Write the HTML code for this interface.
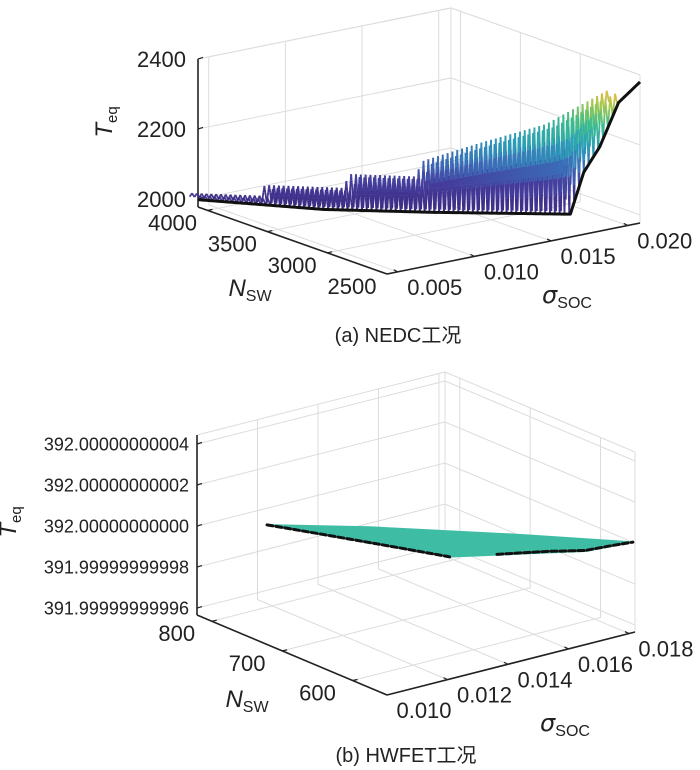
<!DOCTYPE html>
<html><head><meta charset="utf-8">
<style>
body{margin:0;background:#fff;}
svg{display:block;font-family:"Liberation Sans","Noto Sans CJK SC",sans-serif;}
</style></head>
<body>
<svg id="fig" width="700" height="770" viewBox="0 0 700 770">
<g id="c1"></g>
<g id="c2"></g>
<text x="398" y="342" font-size="20" text-anchor="middle" fill="#222">(a) NEDC工况</text>
<text x="406" y="762" font-size="20" text-anchor="middle" fill="#222">(b) HWFET工况</text>
</svg>
<script>
// ---- Chart (a) NEDC data ----
const a_zTicks = [2000, 2200, 2400];
const a_nTicks = [2500, 3000, 3500, 4000];
const a_sTicks = [0.005, 0.010, 0.015, 0.020];
const a_sTickLabels = ["0.005", "0.010", "0.015", "0.020"];
const a_peakSigma = [0.0043, 0.0070, 0.0071, 0.0101, 0.0102, 0.0128, 0.0129, 0.0150, 0.0176, 0.0199];
const a_peakT = [2008, 2008, 2039, 2039, 2079, 2079, 2121, 2178, 2242, 2345];
const a_baseSigma = [0.0043, 0.0090, 0.0130, 0.0182, 0.0187, 0.0193, 0.0200, 0.0208];
const a_baseT = [1998, 1983, 1986, 1995, 2116, 2191, 2319, 2380];
// ---- Chart (b) HWFET data ----
const b_zTicks = [391.99999999996, 391.99999999998, 392.0, 392.00000000002, 392.00000000004];
const b_zTickLabels = ["391.99999999996", "391.99999999998", "392.00000000000", "392.00000000002", "392.00000000004"];
const b_nTicks = [600, 700, 800];
const b_sTicks = [0.010, 0.012, 0.014, 0.016, 0.018];
const b_sTickLabels = ["0.010", "0.012", "0.014", "0.016", "0.018"];
const b_sheetSigma = [0.0115, 0.0135, 0.0163, 0.0182, 0.0168, 0.0137];
const b_sheetN = [786, 727, 628, 554, 560, 621];
const b_sheetT = [392, 392, 392, 392, 392, 392];
const b_frontSigma = [0.0115, 0.0122, 0.0130, 0.0137];
const b_frontN = [786, 735, 675, 621];
const b_front2Sigma = [0.0148, 0.0160, 0.0168, 0.0176, 0.0182];
const b_front2N = [601, 580, 562, 558, 554];

const NS = "http://www.w3.org/2000/svg";
function el(tag, attrs, parent){const e=document.createElementNS(NS,tag);for(const k in attrs)e.setAttribute(k,attrs[k]);parent.appendChild(e);return e;}
function interp(xs, ys, x){if(x<=xs[0])return ys[0];for(let i=1;i<xs.length;i++){if(x<=xs[i]){const t=(x-xs[i-1])/(xs[i]-xs[i-1]||1);return ys[i-1]+t*(ys[i]-ys[i-1]);}}return ys[ys.length-1];}

function makeProj(cfg){
  return function(s,n,z){
    const u=(s-cfg.smin)/(cfg.smax-cfg.smin), v=(n-cfg.nmin)/(cfg.nmax-cfg.nmin);
    const x=cfg.front[0]+u*(cfg.right[0]-cfg.front[0])+v*(cfg.left[0]-cfg.front[0]);
    const y=cfg.front[1]+u*(cfg.right[1]-cfg.front[1])+v*(cfg.left[1]-cfg.front[1])-cfg.zmap(z);
    return [x,y];
  };
}
function line(g,p,q,stroke,w){return el('line',{x1:p[0],y1:p[1],x2:q[0],y2:q[1],stroke:stroke,'stroke-width':w},g);}

function drawFrame(g,cfg,P,zTicks,zLabels,nTicks,sTicks,sLabels,zFont){
  const grid="#dcdcdc";
  const gg=el('g',{},g);
  
  
  const {smin,smax,nmin,nmax,zmin,zmax}=cfg;
  zTicks.forEach(z=>{el('polyline',{points:[P(smin,nmax,z),P(smax,nmax,z),P(smax,nmin,z)].map(p=>p.join(',')).join(' '),fill:'none',stroke:grid,'stroke-width':1},gg);});
  sTicks.forEach(s=>{el('polyline',{points:[P(s,nmin,zmin),P(s,nmax,zmin),P(s,nmax,zmax)].map(p=>p.join(',')).join(' '),fill:'none',stroke:grid,'stroke-width':1},gg);});
  nTicks.forEach(n=>{el('polyline',{points:[P(smin,n,zmin),P(smax,n,zmin),P(smax,n,zmax)].map(p=>p.join(',')).join(' '),fill:'none',stroke:grid,'stroke-width':1},gg);});
  line(gg,P(smax,nmax,zmin),P(smax,nmax,zmax),grid,1);
  line(gg,P(smax,nmin,zmin),P(smax,nmin,zmax),grid,1);
  line(gg,P(smin,nmax,zmax),P(smax,nmax,zmax),grid,1);
  line(gg,P(smax,nmax,zmax),P(smax,nmin,zmax),grid,1);
  const ax=el('g',{},g);
  
  
  const zl=line(ax,P(smin,nmax,zmin),P(smin,nmax,zmax),'#222',1.6);
  
  
  const nl=line(ax,P(smin,nmax,zmin),P(smin,nmin,zmin),'#222',1.6);
  
  
  const sl=line(ax,P(smin,nmin,zmin),P(smax,nmin,zmin),'#222',1.6);
  
  
  zTicks.forEach((z,i)=>{const p=P(smin,nmax,z);line(ax,p,[p[0]+5,p[1]-1.5],'#222',1.2);
    const t=el('text',{x:cfg.zLabelX,y:p[1]+zFont*0.36,'font-size':zFont,'text-anchor':'end',fill:'#222'},ax);t.textContent=zLabels[i];
    
    });
  nTicks.forEach(n=>{const p=P(smin,n,zmin);line(ax,p,[p[0]+5,p[1]-1],'#222',1.2);
    const t=el('text',{x:p[0]+cfg.nOff[0],y:p[1]+cfg.nOff[1]+8,'font-size':22,'text-anchor':'middle',fill:'#222'},ax);t.textContent=String(n);
    
    });
  sTicks.forEach((s,i)=>{const p=P(s,nmin,zmin);line(ax,p,[p[0]-4,p[1]-2],'#222',1.2);
    const t=el('text',{x:p[0]+cfg.sOff[0],y:p[1]+cfg.sOff[1]+8,'font-size':22,'text-anchor':'middle',fill:'#222'},ax);t.textContent=sLabels[i];
    
    });
}
function axisTitles(g,tx,ty,nx,ny,sx,sy){
  const t=el('text',{x:0,y:0,transform:`translate(${tx},${ty}) rotate(-90)`,'text-anchor':'middle',fill:'#222'},g);
  t.innerHTML='<tspan font-style="italic" font-size="24">T</tspan><tspan font-size="15" dy="5">eq</tspan>';
  
  
  const n=el('text',{x:nx,y:ny,'text-anchor':'middle',fill:'#222'},g);
  n.innerHTML='<tspan font-style="italic" font-size="24">N</tspan><tspan font-size="16" dy="5">SW</tspan>';
  
  
  const s=el('text',{x:sx,y:sy,'text-anchor':'middle',fill:'#222'},g);
  s.innerHTML='<tspan font-style="italic" font-size="24" font-family="DejaVu Sans">σ</tspan><tspan font-size="16" dy="5">SOC</tspan>';
  
  
}

// ===== chart a =====
const cfgA={smin:0.0043,smax:0.0208,nmin:2500,nmax:4080,zmin:1977,zmax:2400,
  front:[387,274],right:[640,223],left:[198,207],zLabelX:186,nOff:[-35,12],sOff:[37,15]};
cfgA.zmap=z=>(z-cfgA.zmin)*0.35;
const PA=makeProj(cfgA);
const gA=document.getElementById('c1');
drawFrame(gA,cfgA,PA,a_zTicks,a_zTicks.map(String),a_nTicks,a_sTicks,a_sTickLabels,22);
const stops=[[0,[59,42,128]],[0.2,[69,60,156]],[0.35,[59,110,184]],[0.5,[42,159,184]],[0.65,[61,189,140]],[0.78,[166,200,74]],[0.88,[242,182,60]],[1,[249,228,58]]];
function cmap(z){const t=Math.max(0,Math.min(1,(z-1980)/420));for(let i=1;i<stops.length;i++){if(t<=stops[i][0]){const a=stops[i-1],b=stops[i],f=(t-a[0])/(b[0]-a[0]);return 'rgb('+a[1].map((c,k)=>Math.round(c+f*(b[1][k]-c))).join(',')+')';}}return 'rgb(249,228,58)';}
function stripN(s){return cfgA.nmax-(s-cfgA.smin)/(cfgA.smax-cfgA.smin)*(cfgA.nmax-cfgA.nmin);}
const surf=el('g',{},gA);


const step=0.00018;
[70,0].forEach(dn=>{
for(let s=a_peakSigma[0]+step/2;s<a_peakSigma[a_peakSigma.length-1];s+=step){
  const b0=s-step/2,b1=s+step/2;
  const pk=interp(a_peakSigma,a_peakT,s);
  const segs=[[b0,interp(a_baseSigma,a_baseT,b0),s,pk],[s,pk,b1,interp(a_baseSigma,a_baseT,b1)]];
  segs.forEach(([s0,z0,s1,z1])=>{
    for(let k=0;k<5;k++){const f0=k/5,f1=(k+1)/5;
      const sa=s0+(s1-s0)*f0,za=z0+(z1-z0)*f0,sb=s0+(s1-s0)*f1,zb=z0+(z1-z0)*f1;
      const p=PA(sa,stripN(sa)+dn,za),q=PA(sb,stripN(sb)+dn,zb);
      const l=line(surf,p,q,cmap((za+zb)/2),1.8);
      
      
    }
  });
}
});
(function(){const pts=[];for(let s=cfgA.smin;s<=cfgA.smax+1e-9;s+=0.0001){pts.push(PA(s,stripN(s),interp(a_baseSigma,a_baseT,s)).join(','));}
  const pl=el('polyline',{points:pts.join(' '),fill:'none',stroke:'#111','stroke-width':3,'stroke-linejoin':'round'},gA);
  
  })();
axisTitles(gA,112,122,250,296,567,303);

// ===== chart b =====
const cfgB={smin:0.010,smax:0.0182,nmin:551,nmax:821,zmin:-4.34,zmax:4.44,
  front:[387,695],right:[635,632],left:[197,615],zLabelX:189,nOff:[-35,12],sOff:[37,15]};
cfgB.zmap=z=>{const u=z>100?(z-392)*1e11:z;return (u-cfgB.zmin)*20.5;};
const PB=makeProj(cfgB);
const gB=document.getElementById('c2');
drawFrame(gB,cfgB,PB,b_zTicks,b_zTickLabels,b_nTicks,b_sTicks,b_sTickLabels,18);
const sheet=el('polygon',{points:b_sheetSigma.map((s,i)=>PB(s,b_sheetN[i],b_sheetT[i]).join(',')).join(' '),fill:'#3fbca4',stroke:'#3fbca4','stroke-width':1.5},gB);


[[b_frontSigma,b_frontN],[b_front2Sigma,b_front2N]].forEach(([ss,nn])=>{
  const pl=el('polyline',{points:ss.map((s,i)=>PB(s,nn[i],392).join(',')).join(' '),fill:'none',stroke:'#111','stroke-width':3,'stroke-dasharray':'6 3','stroke-linecap':'round'},gB);
  
  
});
axisTitles(gB,16,522,247,707,565,731);
</script>
</body></html>
